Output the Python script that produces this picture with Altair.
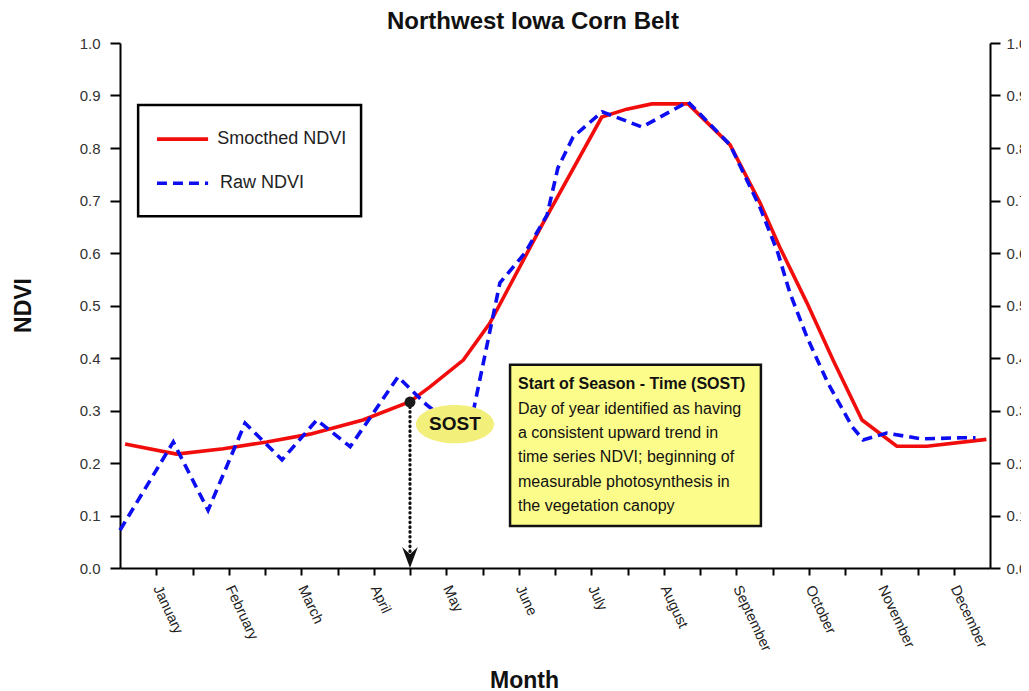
import altair as alt
import pandas as pd

FONT = "Liberation Sans, Arial, sans-serif"

months = ["January", "February", "March", "April", "May", "June", "July",
          "August", "September", "October", "November", "December"]

# x in half-month units (0..24), y = NDVI
smooth_x = [0.14, 1.56, 2.85, 4.05, 5.24, 6.7, 8.0, 8.55, 9.47, 10.2, 11.67, 13.29,
            13.98, 14.67, 15.67, 16.83, 17.66, 18.2, 18.95, 19.67, 20.47, 21.43, 22.26, 23.9]
smooth_y = [0.236, 0.217, 0.227, 0.24, 0.255, 0.282, 0.317, 0.345, 0.396, 0.466, 0.657, 0.859,
            0.874, 0.884, 0.884, 0.806, 0.695, 0.611, 0.505, 0.396, 0.282, 0.232, 0.232, 0.245]

raw_x = [0.0, 1.47, 2.43, 3.45, 4.47, 5.43, 6.35, 7.67, 8.47, 9.6, 10.48, 11.17, 11.78, 12.08,
         12.5, 13.3, 14.4, 15.67, 16.83, 17.66, 18.15, 18.48, 18.95, 19.53, 20.2, 20.5, 21.15,
         22.1, 23.2, 23.6]
raw_y = [0.072, 0.24, 0.11, 0.276, 0.206, 0.282, 0.231, 0.364, 0.31, 0.25, 0.543, 0.60, 0.672,
         0.762, 0.821, 0.869, 0.84, 0.888, 0.806, 0.686, 0.60, 0.524, 0.44, 0.352, 0.269, 0.244,
         0.257, 0.246, 0.248, 0.248]

sost_x = [8.0]
sost_y = [0.316]

legend_labels = ["Smocthed NDVI", "Raw NDVI"]
note_lines = ["Start of Season - Time (SOST)",
              "Day of year identified as having",
              "a consistent upward trend in",
              "time series NDVI; beginning of",
              "measurable photosynthesis in",
              "the vegetation canopy"]

RED = "#f20d0d"
BLUE = "#0d0df2"

xscale = alt.Scale(domain=[0, 24], nice=False, zero=False)
yscale = alt.Scale(domain=[0, 1], nice=False)

label_expr = ("datum.value % 2 == 1 ? " + str(months) + "[(datum.value - 1) / 2] : ''")

x_axis = alt.Axis(values=list(range(1, 24)), labelExpr=label_expr, labelAngle=65,
                  labelAlign="left", labelBaseline="middle", labelPadding=11,
                  labelFontSize=14.5, labelFont=FONT, labelColor="#222",
                  labelOverlap=False, labelBound=False, labelFlush=False,
                  tickSize=7, tickWidth=2, tickColor="black",
                  domainColor="black", domainWidth=2, grid=False,
                  title="Month", titleFont=FONT, titleFontSize=23, titleFontWeight="bold",
                  titleColor="#111", titleX=404, titleY=112, titleAlign="center",
                  titleBaseline="middle", titleAngle=0)

y_vals = [round(i * 0.1, 1) for i in range(11)]

def y_axis(orient, title):
    kw = dict(orient=orient, values=y_vals, format=".1f", tickSize=10, tickWidth=2,
              tickColor="black", domainColor="black", domainWidth=2, grid=False,
              labelFontSize=15, labelFont=FONT, labelColor="#333",
              labelPadding=10 if title else 6)
    if title:
        kw.update(title=title, titleFont=FONT, titleFontSize=23, titleFontWeight="bold",
                  titleColor="#111", titleX=-97, titleY=262, titleAngle=270,
                  titleAlign="center", titleBaseline="middle")
    else:
        kw.update(title=None)
    return alt.Axis(**kw)

def XN(f="x"):
    return alt.X(f + ":Q", scale=xscale, axis=x_axis)

def YN(f="y"):
    return alt.Y(f + ":Q", scale=yscale, axis=None)

smooth_df = pd.DataFrame({"x": smooth_x, "y": smooth_y})
raw_df = pd.DataFrame({"x": raw_x, "y": raw_y})

smooth = alt.Chart(smooth_df).mark_line(color=RED, strokeWidth=3.6).encode(
    x=XN(),
    y=alt.Y("y:Q", scale=yscale, axis=y_axis("left", "NDVI")),
)
raw = alt.Chart(raw_df).mark_line(color=BLUE, strokeWidth=3.6, strokeDash=[10, 6]).encode(
    x=XN(),
    y=alt.Y("y:Q", scale=yscale, axis=y_axis("right", None)),
)

# legend box
leg_box = alt.Chart(pd.DataFrame({"x": [0.5], "x2": [6.65], "y": [0.882], "y2": [0.670]})).mark_rect(
    fill="white", stroke="black", strokeWidth=2.5).encode(
    x=XN(), x2="x2", y=YN(), y2="y2")
leg_red = alt.Chart(pd.DataFrame({"x": [1.02], "x2": [2.43], "y": [0.817]})).mark_rule(
    color=RED, strokeWidth=3.6).encode(x=XN(), x2="x2", y=YN())
leg_blue = alt.Chart(pd.DataFrame({"x": [1.02], "x2": [2.43], "y": [0.733]})).mark_rule(
    color=BLUE, strokeWidth=3.6, strokeDash=[10, 6]).encode(x=XN(), x2="x2", y=YN())
leg_text = alt.Chart(pd.DataFrame({"x": [2.68, 2.76], "y": [0.817, 0.733], "t": legend_labels})).mark_text(
    align="left", baseline="middle", fontSize=18, font=FONT, color="#222").encode(
    x=XN(), y=YN(), text="t:N")

# note box
note_box = alt.Chart(pd.DataFrame({"x": [10.76], "x2": [17.68], "y": [0.387], "y2": [0.08]})).mark_rect(
    fill="#fcfc8a", stroke="#111", strokeWidth=2.5).encode(x=XN(), x2="x2", y=YN(), y2="y2")
note_df = pd.DataFrame({"x": [10.98] * 6,
                        "y": [0.350, 0.303, 0.257, 0.211, 0.164, 0.118],
                        "t": note_lines})
note_title = alt.Chart(note_df.iloc[:1]).mark_text(
    align="left", baseline="middle", fontSize=16, font=FONT, fontWeight="bold", color="#111").encode(
    x=XN(), y=YN(), text="t:N")
note_body = alt.Chart(note_df.iloc[1:]).mark_text(
    align="left", baseline="middle", fontSize=16, font=FONT, color="#111").encode(
    x=XN(), y=YN(), text="t:N")

# SOST marker, dotted arrow, ellipse label
sost_df = pd.DataFrame({"x": sost_x, "y": sost_y, "y0": [0.02]})
arrow_line = alt.Chart(sost_df).mark_rule(color="#111", strokeWidth=3.2, strokeDash=[0.5, 4.3],
                                          strokeCap="round").encode(x=XN(), y=YN(), y2="y0")
arrow_head = alt.Chart(sost_df).mark_point(
    shape="M0,1 L-0.75,-1 L0,-0.3 L0.75,-1 Z", size=440, filled=True, fill="#111",
    opacity=1, strokeWidth=0).encode(x=XN(), y=YN("y0"))
dot = alt.Chart(sost_df).mark_point(shape="circle", size=120, filled=True, fill="#1a1a1a",
                                    opacity=1, strokeWidth=0).encode(x=XN(), y=YN())
ell_df = pd.DataFrame({"x": [9.24], "y": [0.274], "t": ["SOST"]})
ellipse = alt.Chart(ell_df).mark_point(
    shape="M-1,0 A1,0.49 0 1,1 1,0 A1,0.49 0 1,1 -1,0 Z", size=6084, filled=True,
    fill="#f3ef7b", opacity=1, strokeWidth=0).encode(x=XN(), y=YN())
ell_text = alt.Chart(ell_df).mark_text(fontSize=19, fontWeight="bold", font=FONT, color="#111",
                                       align="center", baseline="middle").encode(
    x=XN(), y=YN(), text="t:N")

chart = alt.layer(
    smooth, raw, ellipse, ell_text, arrow_line, arrow_head, dot,
    leg_box, leg_red, leg_blue, leg_text, note_box, note_title, note_body,
).resolve_axis(y="independent").properties(
    width=870, height=525, background="white",
    title=alt.TitleParams("Northwest Iowa Corn Belt", fontSize=24, font=FONT, fontWeight="bold",
                          color="#111", anchor="middle", dx=-22, offset=2),
    autosize=alt.AutoSizeParams(type="none"),
    padding={"left": 112, "top": 35, "right": 31, "bottom": 123},
).configure_view(stroke=None)

chart.save("out.html", embed_options={"renderer": "svg", "actions": False})
